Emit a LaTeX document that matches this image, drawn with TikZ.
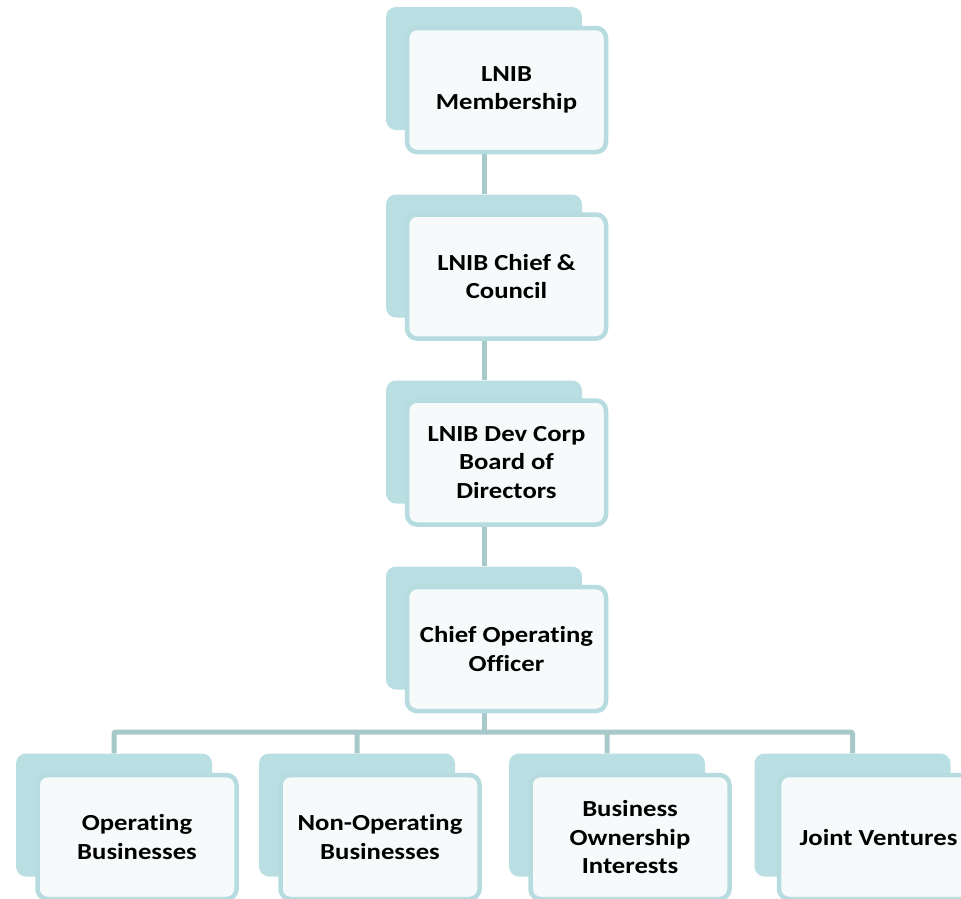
\documentclass[tikz,border=0pt]{standalone}
\usepackage{fontspec}
\setmainfont{Carlito}
\newfontfamily\boxfont[FakeStretch=1.16, Ligatures=NoCommon]{Carlito}
\usetikzlibrary{backgrounds}

\definecolor{tealback}{HTML}{B9DFE2}
\definecolor{tealedge}{HTML}{B6DCDF}
\definecolor{paleface}{HTML}{F6FAFB}
\definecolor{linkline}{HTML}{A7C9CA}

\tikzset{
  backbox/.style={rectangle, rounded corners=10pt, fill=tealback,
    minimum width=196pt, minimum height=123pt, inner sep=0pt},
  frontbox/.style={rectangle, rounded corners=10pt, draw=tealedge, fill=paleface,
    line width=4.5pt, minimum width=199pt, minimum height=124pt, inner sep=0pt,
    align=center, font=\boxfont\fontsize{23}{28.5}\selectfont\bfseries},
  link/.style={draw=linkline, line width=5pt, rounded corners=2pt}
}

\begin{document}
\begin{tikzpicture}[x=1pt, y=1pt]
    \clip (0,0) rectangle (961,-898);

    % upper chain
    \node[backbox] (memb-b) at (484,-68.5) {};
    \node[frontbox] (memb) at (506.5,-90) {LNIB\\Membership};
    \node[backbox] (chief-b) at (484,-256) {};
    \node[frontbox] (chief) at (506.5,-276.5) {LNIB Chief \&\\Council};
    \node[backbox] (board-b) at (484,-442) {};
    \node[frontbox] (board) at (506.5,-462.5) {LNIB Dev Corp\\Board of\\Directors};
    \node[backbox] (coo-b) at (484,-628) {};
    \node[frontbox] (coo) at (506.5,-649) {Chief Operating\\Officer};

    % lower row
    \node[backbox] (ops-b) at (114,-815) {};
    \node[frontbox] (ops) at (137,-837) {Operating\\Businesses};
    \node[backbox] (nonops-b) at (357,-815) {};
    \node[frontbox] (nonops) at (380,-837) {Non-Operating\\Businesses};
    \node[backbox] (own-b) at (607,-815) {};
    \node[frontbox] (own) at (630,-837) {Business\\Ownership\\Interests};
    \node[backbox] (jv-b) at (852.5,-815) {};
    \node[frontbox] (jv) at (878.5,-837) {Joint Ventures};

    \coordinate (split) at (484,-732);

    \begin{scope}[on background layer]
    \fill[white] (0,0) rectangle (961,-898);
    \draw[link]
    (memb-b.south) -- (chief-b.north)
    (chief-b.south) -- (board-b.north)
    (board-b.south) -- (coo-b.north)
    (coo-b.south) -- (split);
    \draw[link]
    (split) -| (ops-b.north)
    (split) -| (nonops-b.north)
    (split) -| (own-b.north)
    (split) -| (jv-b.north);
    \end{scope}
  \end{tikzpicture}
\end{document}
